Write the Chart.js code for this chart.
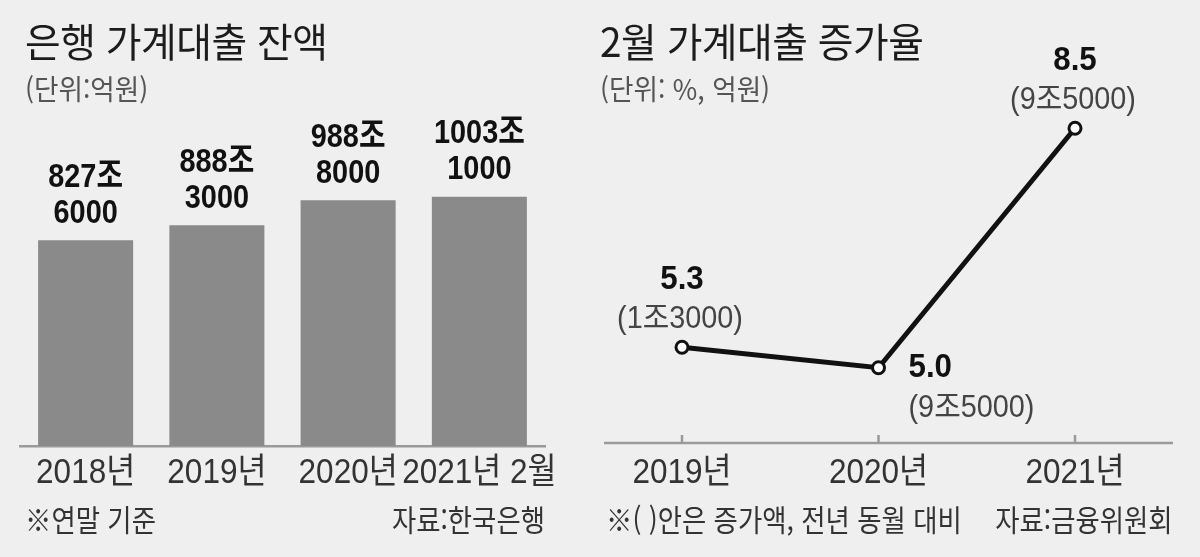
<!DOCTYPE html>
<html lang="ko">
<head>
<meta charset="utf-8">
<script src="https://cdn.jsdelivr.net/npm/chart.js@4"></script>
<style>
  html, body { margin: 0; padding: 0; background: #efefef; }
  #wrap { position: relative; width: 1200px; height: 557px; overflow: hidden; font-family: 'Noto Sans CJK KR', sans-serif; }
  canvas { position: absolute; top: 0; }
  .t { position: absolute; white-space: nowrap; line-height: 1; }
  .title { font-size: 40px; color: #1c1c1c; transform: scaleX(0.97); transform-origin: left center; letter-spacing: -0.5px; }
  .unit { font-size: 28px; color: #555; transform: scaleX(0.95); transform-origin: left center; }
  .note { font-size: 30px; color: #333; transform: scaleX(0.88); transform-origin: left center; }
  .note.r { transform-origin: right center; }
</style>
</head>
<body>
<div id="wrap">
  <canvas id="leftChart" width="600" height="557" style="left:0"></canvas>
  <canvas id="rightChart" width="600" height="557" style="left:600px"></canvas>

  <div class="t title" style="left:25px;top:20px">은행 가계대출 잔액</div>
  <div class="t unit" style="left:25px;top:74px">(단위:억원)</div>
  <div class="t note" style="left:25px;top:503px">※연말 기준</div>
  <div class="t note r" style="right:655px;top:503px">자료:한국은행</div>

  <div class="t title" style="left:600px;top:20px">2월 가계대출 증가율</div>
  <div class="t unit" style="left:600px;top:74px">(단위: %, 억원)</div>
  <div class="t note" style="left:606px;top:503px">※( )안은 증가액, 전년 동월 대비</div>
  <div class="t note r" style="right:27px;top:503px">자료:금융위원회</div>
</div>
<script>
// 은행 가계대출 잔액 (조원)
const balYears = ["2018년", "2019년", "2020년", "2021년 2월"];
const balValues = [827.6, 888.3, 988.8, 1003.1];

// 2월 가계대출 증가율 (%), 증가액 (억원)
const rateYears = ["2019년", "2020년", "2021년"];
const rateValues = [5.3, 5.0, 8.5];
const incAmounts = [13000, 95000, 95000];

const NUM_FONT = "'Liberation Sans', 'Noto Sans CJK KR', sans-serif";

// 827.6 -> ["827조", "6000"]
function joParts(v) {
    const jo = Math.floor(v);
    const eok = Math.round((v - jo) * 10000);
    return [jo + "조", String(eok)];
}
// 13000 -> "1조3000"
function eokText(a) {
    return Math.floor(a / 10000) + "조" + (a % 10000);
}

// 좁은 글꼴처럼 보이게 가로로 눌러서 그림
function drawText(ctx, text, x, y, font, color, align, sx) {
    ctx.save();
    ctx.font = font;
    ctx.fillStyle = color;
    ctx.textAlign = align;
    ctx.textBaseline = "middle";
    ctx.translate(x, y);
    ctx.scale(sx, 1);
    ctx.fillText(text, 0, 0);
    ctx.restore();
}

const barLabels = {
    id: "barLabels",
    afterDatasetsDraw(chart) {
        const { ctx, chartArea, scales: { x } } = chart;
        const meta = chart.getDatasetMeta(0);
        meta.data.forEach((bar, i) => {
            const [l1, l2] = joParts(balValues[i]);
            drawText(ctx, l1, bar.x, bar.y - 63, "bold 34px " + NUM_FONT, "#111", "center", 0.85);
            drawText(ctx, l2, bar.x, bar.y - 27, "bold 34px " + NUM_FONT, "#111", "center", 0.85);
        });
        balYears.forEach((lab, i) => {
            drawText(ctx, lab, x.getPixelForValue(i), chartArea.bottom + 27, "35px " + NUM_FONT, "#333", "center", 0.9);
        });
    }
};

const rateDecor = {
    id: "rateDecor",
    beforeDatasetsDraw(chart) {
        const { ctx, chartArea, scales: { x } } = chart;
        const y0 = chartArea.bottom;
        ctx.save();
        ctx.strokeStyle = "#9a9a9a";
        ctx.lineWidth = 2.5;
        ctx.beginPath();
        ctx.moveTo(x.getPixelForValue(0) - 78, y0);
        ctx.lineTo(x.getPixelForValue(rateYears.length - 1) + 98, y0);
        rateYears.forEach((_, i) => {
            const px = x.getPixelForValue(i);
            ctx.moveTo(px, y0);
            ctx.lineTo(px, y0 - 8);
        });
        ctx.stroke();
        ctx.restore();
        rateYears.forEach((lab, i) => {
            drawText(ctx, lab, x.getPixelForValue(i), y0 + 30, "35px " + NUM_FONT, "#333", "center", 0.9);
        });
    },
    afterDatasetsDraw(chart) {
        const { ctx } = chart;
        const meta = chart.getDatasetMeta(0);
        const place = ["top", "right", "top"];
        meta.data.forEach((pt, i) => {
            const v = rateValues[i].toFixed(1);
            const a = "(" + eokText(incAmounts[i]) + ")";
            if (place[i] === "top") {
                drawText(ctx, v, pt.x, pt.y - 68, "bold 34px " + NUM_FONT, "#111", "center", 0.92);
                drawText(ctx, a, pt.x - 2, pt.y - 28, "31px " + NUM_FONT, "#444", "center", 0.93);
            } else {
                drawText(ctx, v, pt.x + 30, pt.y, "bold 34px " + NUM_FONT, "#111", "left", 0.92);
                drawText(ctx, a, pt.x + 30, pt.y + 41, "31px " + NUM_FONT, "#444", "left", 0.93);
            }
        });
    }
};

new Chart(document.getElementById("leftChart"), {
    type: "bar",
    data: {
        labels: balYears,
        datasets: [{
            data: balValues,
            backgroundColor: "#8a8a8a",
            barPercentage: 0.724,
            categoryPercentage: 1,
        }],
    },
    options: {
        responsive: false,
        animation: false,
        events: [],
        layout: { padding: { left: 20, right: 55, top: 98, bottom: 111 } },
        plugins: { legend: { display: false }, tooltip: { enabled: false } },
        scales: {
            x: {
                grid: { display: false, drawTicks: false },
                border: { display: true, color: "#9a9a9a", width: 2.5 },
                ticks: { display: false },
            },
            y: { display: false, min: 0, max: 1400 },
        },
    },
    plugins: [barLabels],
});

new Chart(document.getElementById("rightChart"), {
    type: "line",
    data: {
        labels: rateYears,
        datasets: [{
            data: rateValues,
            borderColor: "#111",
            borderWidth: 5,
            pointRadius: 6,
            pointBorderWidth: 3,
            pointBackgroundColor: "#fff",
            pointBorderColor: "#111",
            tension: 0,
            clip: false,
        }],
    },
    options: {
        responsive: false,
        animation: false,
        events: [],
        layout: { padding: { left: 82, right: 125, top: 94, bottom: 114 } },
        plugins: { legend: { display: false }, tooltip: { enabled: false } },
        scales: {
            x: { display: false, offset: false },
            y: { display: false, min: 3.9, max: 9.0 },
        },
    },
    plugins: [rateDecor],
});
</script>
</body>
</html>
